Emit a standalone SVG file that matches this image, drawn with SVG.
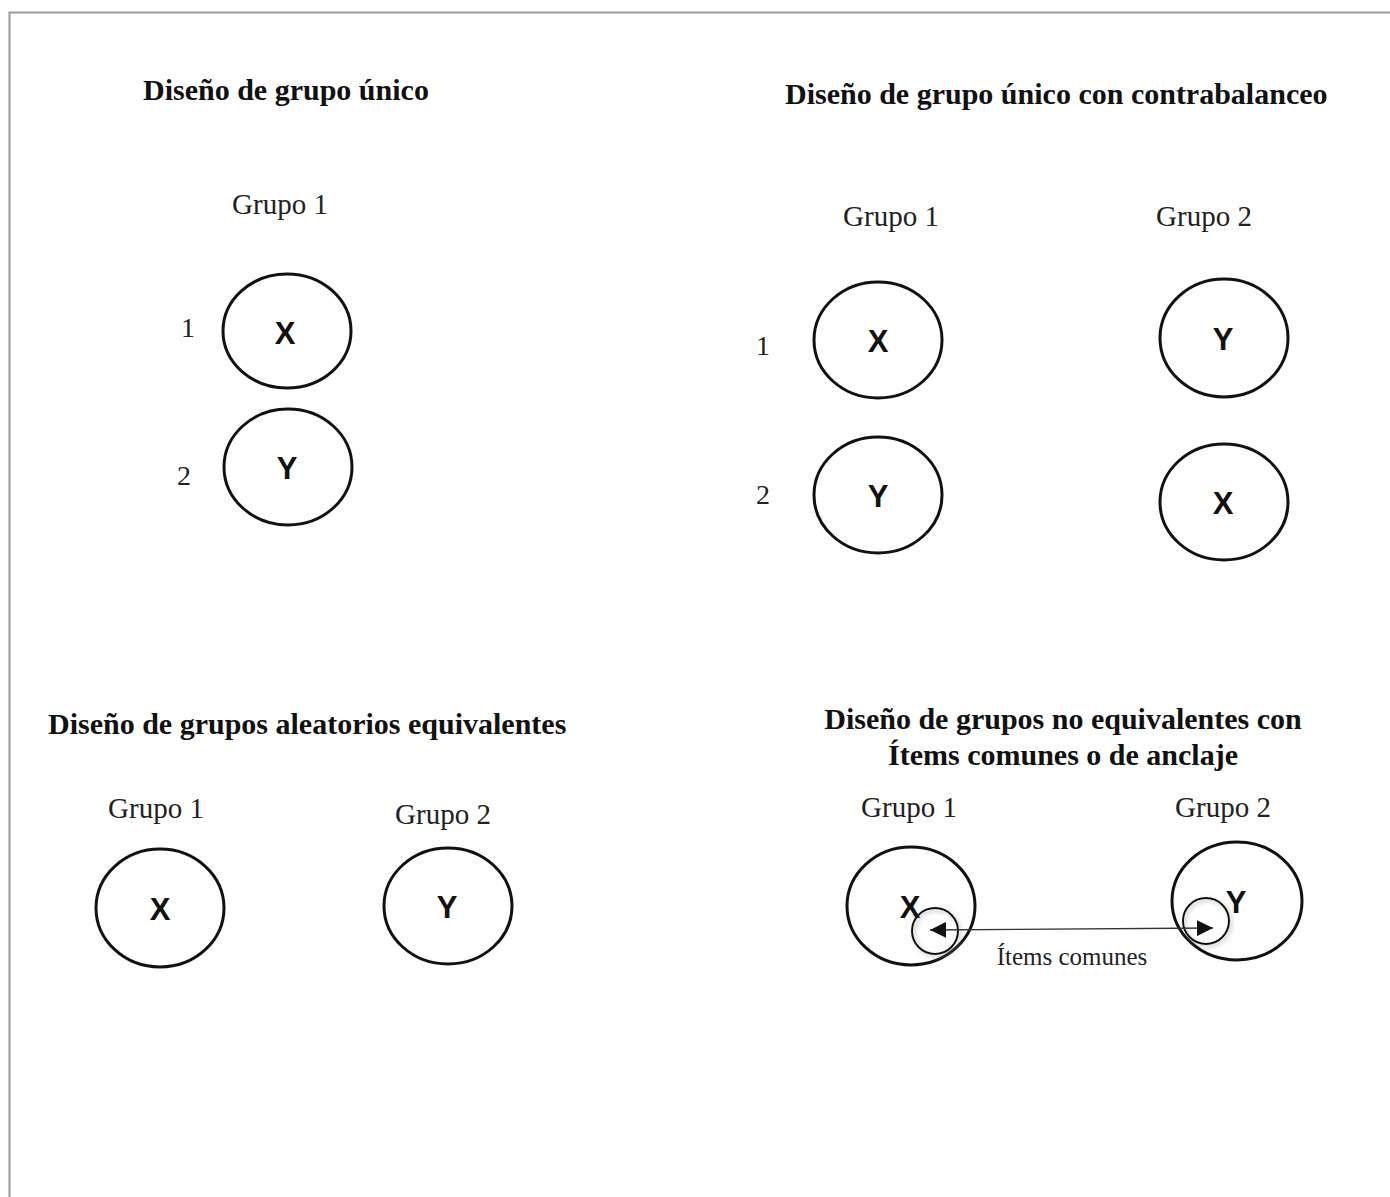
<svg xmlns="http://www.w3.org/2000/svg" width="1390" height="1197" viewBox="0 0 1390 1197">
<defs>
<style>
.title{font-family:"Liberation Serif","Times New Roman",serif;font-weight:bold;font-size:30px;fill:#111}
.lbl{font-family:"Liberation Serif","Times New Roman",serif;font-size:29px;fill:#222;text-anchor:middle}
.num{font-family:"Liberation Serif","Times New Roman",serif;font-size:28px;fill:#222;text-anchor:middle}
.let{font-family:"Liberation Sans",Arial,sans-serif;font-weight:bold;font-size:31px;fill:#111;text-anchor:middle}
.c{fill:none;stroke:#111;stroke-width:3}
.sc{fill:none;stroke:#111;stroke-width:2}
.conn{stroke:#333;stroke-width:1.3;fill:none}
</style>
<marker id="ah" viewBox="0 0 10 10" refX="10" refY="5" markerWidth="16" markerHeight="16" markerUnits="userSpaceOnUse" orient="auto-start-reverse">
<path d="M0,0 L10,5 L0,10 z" fill="#111"/>
</marker>
<filter id="sh" x="-50%" y="-50%" width="200%" height="200%">
<feGaussianBlur in="SourceAlpha" stdDeviation="2"/>
<feOffset dx="2" dy="2" result="b"/>
<feFlood flood-color="#888" flood-opacity="0.6"/>
<feComposite in2="b" operator="in"/>
<feMerge><feMergeNode/><feMergeNode in="SourceGraphic"/></feMerge>
</filter>
</defs>
<rect width="1390" height="1197" fill="#fff"/>
<path d="M9.5,1197 V12.5 H1390" fill="none" stroke="#999" stroke-width="2"/>

<g id="titles">
<text class="title" x="143" y="100">Diseño de grupo único</text>
<text class="title" x="785" y="104">Diseño de grupo único con contrabalanceo</text>
<text class="title" x="48" y="734">Diseño de grupos aleatorios equivalentes</text>
<text class="title" x="1063" y="729" text-anchor="middle">Diseño de grupos no equivalentes con</text>
<text class="title" x="1063" y="765" text-anchor="middle">Ítems comunes o de anclaje</text>
</g>

<g id="labels">
<text class="lbl" x="280" y="214">Grupo 1</text>
<text class="num" x="188" y="337">1</text>
<text class="num" x="184" y="485">2</text>
<text class="lbl" x="891" y="226">Grupo 1</text>
<text class="lbl" x="1204" y="226">Grupo 2</text>
<text class="num" x="763" y="355">1</text>
<text class="num" x="763" y="504">2</text>
<text class="lbl" x="156" y="818">Grupo 1</text>
<text class="lbl" x="443" y="824">Grupo 2</text>
<text class="lbl" x="909" y="817">Grupo 1</text>
<text class="lbl" x="1223" y="817">Grupo 2</text>
</g>

<g id="n-tl-x"><ellipse class="c" cx="287" cy="331" rx="64" ry="57"/><text class="let" x="285" y="344">X</text></g>
<g id="n-tl-y"><ellipse class="c" cx="288" cy="467" rx="64" ry="58"/><text class="let" x="287" y="479">Y</text></g>

<g id="n-tr-g1-x"><ellipse class="c" cx="878" cy="340" rx="64" ry="58"/><text class="let" x="878" y="352">X</text></g>
<g id="n-tr-g1-y"><ellipse class="c" cx="878" cy="495" rx="64" ry="58"/><text class="let" x="878" y="507">Y</text></g>
<g id="n-tr-g2-y"><ellipse class="c" cx="1224" cy="338" rx="64" ry="59"/><text class="let" x="1223" y="350">Y</text></g>
<g id="n-tr-g2-x"><ellipse class="c" cx="1224" cy="502" rx="64" ry="58"/><text class="let" x="1223" y="514">X</text></g>

<g id="n-bl-g1-x"><ellipse class="c" cx="160" cy="908" rx="64" ry="59"/><text class="let" x="160" y="920">X</text></g>
<g id="n-bl-g2-y"><ellipse class="c" cx="448" cy="906" rx="64" ry="58"/><text class="let" x="447" y="918">Y</text></g>

<g id="n-br-g1-x"><ellipse class="c" cx="911" cy="906" rx="64" ry="59"/><text class="let" x="910" y="918">X</text></g>
<g id="n-br-g2-y"><ellipse class="c" cx="1237" cy="901" rx="65" ry="59"/><text class="let" x="1236" y="913">Y</text></g>
<g id="n-anchor-1"><circle class="sc" cx="935" cy="931" r="23" filter="url(#sh)"/></g>
<g id="n-anchor-2"><circle class="sc" cx="1206" cy="921" r="23" filter="url(#sh)"/></g>

<g id="connectors">
<line class="conn" x1="930" y1="930" x2="1213" y2="928" marker-start="url(#ah)" marker-end="url(#ah)"/>
</g>
<text class="lbl" x="1072" y="965" style="font-size:25px">Ítems comunes</text>
</svg>
